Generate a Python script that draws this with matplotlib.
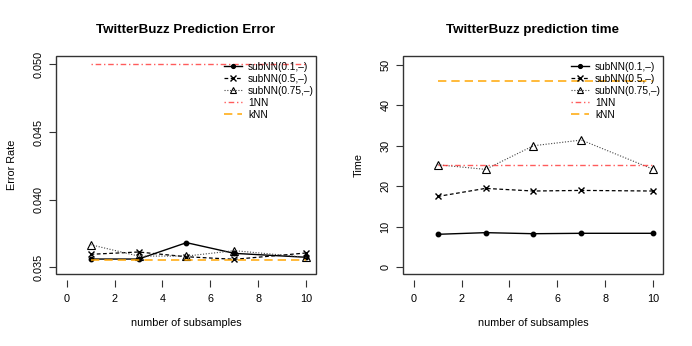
import matplotlib
matplotlib.use("Agg")
import matplotlib.pyplot as plt
from matplotlib.patches import Rectangle

plt.rcParams['font.family'] = ['Liberation Sans', 'DejaVu Sans']

x = [1, 3, 5, 7, 10]
err_sub01 = [0.03561, 0.03561, 0.03682, 0.03603, 0.03574]
err_sub05 = [0.03596, 0.03613, 0.03578, 0.03559, 0.03606]
err_sub075 = [0.03667, 0.03583, 0.03583, 0.03623, 0.03574]
err_1nn = 0.0500
err_knn = 0.03557

time_sub01 = [8.15, 8.56, 8.3, 8.4, 8.4]
time_sub05 = [17.5, 19.5, 18.85, 19.0, 18.85]
time_sub075 = [25.35, 24.2, 30.05, 31.45, 24.2]
time_1nn = 25.3
time_knn = 46.0

labels = ["subNN(0.1,–)", "subNN(0.5,–)", "subNN(0.75,–)", "1NN", "kNN"]
titles = ["TwitterBuzz Prediction Error", "TwitterBuzz prediction time"]
ylabels = ["Error Rate", "Time"]
xlabel = "number of subsamples"

W, H = 692, 346
fig = plt.figure(figsize=(W/100, H/100), dpi=100)

def make_ax(left_px):
    return fig.add_axes([left_px/W, 1-274/H, 260/W, 218.3/H])

ax1 = make_ax(56)
ax2 = make_ax(403)

def draw(ax, s1, s2, s3, v1nn, vknn, ylim, yticks, yticklabels, title, ylabel):
    h1, = ax.plot(x, s1, color='black', lw=1.0, ls='-', marker='o', ms=3.2)
    h2, = ax.plot(x, s2, color='black', lw=0.9, ls=(0, (3, 2)), marker='x', ms=5, mew=1.0)
    h3, = ax.plot(x, s3, color='#444444', lw=0.8, ls=(0, (1, 1.5)), marker='^', ms=5.5,
                  mfc='none', mec='black', mew=0.8)
    h4, = ax.plot([x[0], x[-1]], [v1nn, v1nn], color='#ff3333', lw=1.0, alpha=0.8,
                  ls=(0, (1, 2, 4, 2)))
    h5, = ax.plot([x[0], x[-1]], [vknn, vknn], color='#FFA500', lw=1.2, alpha=0.9,
                  ls=(0, (5, 3)))
    ax.set_xlim(-0.44, 10.4)
    ax.set_ylim(*ylim)
    ax.set_xticks([0, 2, 4, 6, 8, 10])
    ax.set_yticks(yticks)
    ax.set_yticklabels(yticklabels, rotation=90, va='center')
    for s in ax.spines.values():
        s.set_visible(False)
    ax.spines['bottom'].set_position(('outward', 4))
    ax.add_patch(Rectangle((0, 0), 1, 1, transform=ax.transAxes, fill=False,
                           ec='#333333', lw=1.0, clip_on=False))
    ax.tick_params(axis='both', length=5, width=0.8, color='#333333', labelsize=7.8,
                   pad=3)
    ax.tick_params(axis='x', pad=5.5)
    ax.tick_params(axis='y', pad=4)
    ax.set_title(title, fontsize=9.6, fontweight='bold', pad=16)
    ax.set_xlabel(xlabel, fontsize=7.8, labelpad=10)
    ax.set_ylabel(ylabel, fontsize=7.8, labelpad=12)
    leg = ax.legend([h1, h2, h3, h4, h5], labels, loc='upper right',
                    bbox_to_anchor=(1.015, 1.0), frameon=False, fontsize=7.3,
                    handlelength=1.8, handletextpad=0.6, labelspacing=0.2,
                    borderaxespad=0.2, markerscale=0.85)
    return leg

draw(ax1, err_sub01, err_sub05, err_sub075, err_1nn, err_knn,
     (0.034505, 0.050635), [0.035, 0.040, 0.045, 0.050],
     ["0.035", "0.040", "0.045", "0.050"], titles[0], ylabels[0])
draw(ax2, time_sub01, time_sub05, time_sub075, time_1nn, time_knn,
     (-1.66, 52.3), [0, 10, 20, 30, 40, 50],
     ["0", "10", "20", "30", "40", "50"], titles[1], ylabels[1])

fig.savefig("out.png", dpi=100)
